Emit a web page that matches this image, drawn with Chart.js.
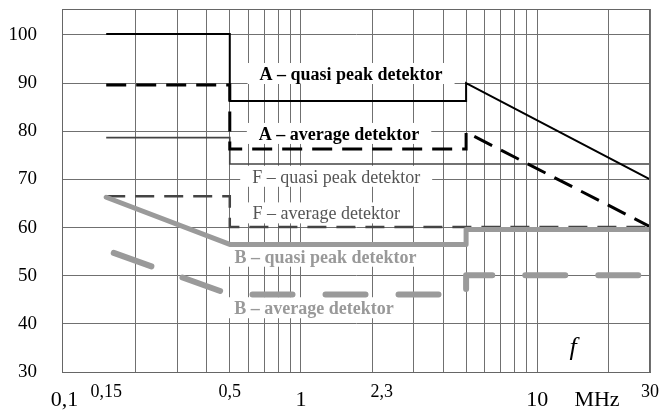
<!DOCTYPE html>
<html>
<head>
<meta charset="utf-8">
<script src="https://cdn.jsdelivr.net/npm/chart.js@4.4.1/dist/chart.umd.min.js"></script>
<style>
  html, body { margin: 0; padding: 0; background: #fff; }
  #wrap { width: 663px; height: 410px; }
</style>
</head>
<body>
<div id="wrap"><canvas id="limits" width="663" height="410"></canvas></div>
<script>
// Limit curves (frequency in MHz, level in dB)
const aQpFreq = [0.15, 0.5, 0.5, 5, 5, 30];
const aQpLevel = [100.2, 100.2, 86.3, 86.3, 90, 70];
const aAvgFreq = [0.15, 0.5, 0.5, 5, 5, 30];
const aAvgLevel = [89.6, 89.6, 76.3, 76.3, 79.8, 60.2];
const fQpFreq = [0.15, 0.5, 0.5, 30];
const fQpLevel = [78.7, 78.7, 73.2, 73.2];
const fAvgFreq = [0.15, 0.5, 0.5, 30];
const fAvgLevel = [66.5, 66.5, 60.1, 60.1];
const bQpFreq = [0.15, 0.5, 5, 5, 30];
const bQpLevel = [66.3, 56.5, 56.5, 59.6, 59.6];
const bAvgFreq = [0.15, 0.5, 5, 5, 30];
const bAvgLevel = [55.3, 46.1, 46.1, 50.1, 50.1];

// Axes
const xGridValues = [0.2, 0.3, 0.4, 0.5, 0.6, 0.7, 0.8, 0.9, 1, 2, 3, 4, 5, 6, 7, 8, 9, 10, 20, 30];
const yTickValues = [30, 40, 50, 60, 70, 80, 90, 100];
const xLabelTexts = ['0,1', '0,15', '0,5', '1', '2,3', '10', 'MHz', '30'];
const xLabelAt = [0.1, 0.15, 0.5, 1, 2.2, 10, 17.9, 30];
const xLabelBig = [true, false, false, true, false, true, true, false];

// Curve captions
const captionTexts = ['A – quasi peak detektor', 'A – average detektor', 'F – quasi peak detektor',
  'F – average detektor', 'B – quasi peak detektor', 'B – average detektor'];
const captionFreq = [1.63, 1.45, 1.41, 1.28, 1.27, 1.135];
const captionLevel = [90.65, 78.2, 69.3, 61.7, 52.7, 42.0];
const captionBold = [true, true, false, false, true, true];
const captionColor = ['#000', '#000', '#555', '#555', '#999', '#999'];

const SERIF = '"Liberation Serif", "Times New Roman", serif';

function toPoints(freq, level) {
  return freq.map((f, i) => ({ x: f, y: level[i] }));
}

// Captions with white boxes, drawn over the grid but under the curves
const captionPlugin = {
  id: 'captions',
  beforeDatasetsDraw(chart) {
    const ctx = chart.ctx;
    const xs = chart.scales.x, ys = chart.scales.y;
    ctx.save();
    captionTexts.forEach((t, i) => {
      ctx.font = (captionBold[i] ? 'bold ' : '') + '18px ' + SERIF;
      const w = ctx.measureText(t).width;
      const cx = xs.getPixelForValue(captionFreq[i]);
      const by = ys.getPixelForValue(captionLevel[i]);
      ctx.fillStyle = '#fff';
      ctx.fillRect(cx - w / 2 - 12, by - 17, w + 24, 21);
      ctx.fillStyle = captionColor[i];
      ctx.textAlign = 'center';
      ctx.textBaseline = 'alphabetic';
      ctx.fillText(t, cx, by);
    });
    ctx.restore();
  },
  afterDraw(chart) {
    const ctx = chart.ctx;
    const a = chart.chartArea;
    const xs = chart.scales.x, ys = chart.scales.y;
    ctx.save();
    // frame
    ctx.strokeStyle = '#666';
    ctx.lineWidth = 1;
    ctx.strokeRect(a.left + 0.5, a.top + 0.5, a.right - a.left - 1, a.bottom - a.top);
    // x labels
    ctx.fillStyle = '#000';
    ctx.textAlign = 'center';
    ctx.textBaseline = 'alphabetic';
    xLabelTexts.forEach((t, i) => {
      ctx.font = (xLabelBig[i] ? '22px ' : '18px ') + SERIF;
      ctx.fillText(t, xs.getPixelForValue(xLabelAt[i]), xLabelBig[i] ? 406 : 397);
    });
    // frequency symbol
    ctx.font = 'italic 26px ' + SERIF;
    ctx.fillText('f', xs.getPixelForValue(14.2), ys.getPixelForValue(33.5));
    ctx.restore();
  }
};

new Chart(document.getElementById('limits'), {
  type: 'line',
  data: {
    datasets: [
      { data: toPoints(bQpFreq, bQpLevel), borderColor: '#9a9a9a', borderWidth: 5,
        borderCapStyle: 'round', borderJoinStyle: 'round' },
      { data: toPoints(bAvgFreq, bAvgLevel), borderColor: '#9a9a9a', borderWidth: 6,
        borderCapStyle: 'round', borderJoinStyle: 'round', borderDash: [40, 33], borderDashOffset: 65 },
      { data: toPoints(aQpFreq, aQpLevel), borderColor: '#000', borderWidth: 2 },
      { data: toPoints(aAvgFreq, aAvgLevel), borderColor: '#000', borderWidth: 3, borderDash: [20, 10] },
      { data: toPoints(fQpFreq, fQpLevel), borderColor: '#444', borderWidth: 1.7 },
      { data: toPoints(fAvgFreq, fAvgLevel), borderColor: '#444', borderWidth: 2.5, borderDash: [19, 10] }
    ]
  },
  options: {
    responsive: false,
    animation: false,
    devicePixelRatio: 1,
    layout: { padding: { left: 10, right: 13, top: 9, bottom: 0 } },
    elements: { point: { radius: 0 }, line: { tension: 0, fill: false } },
    plugins: { legend: { display: false }, tooltip: { enabled: false } },
    scales: {
      x: {
        type: 'logarithmic',
        min: 0.0975,
        max: 30,
        afterBuildTicks(scale) { scale.ticks = xGridValues.map(v => ({ value: v })); },
        afterFit(scale) {
          scale.height = 38;
          scale.paddingLeft = 0;
          scale.paddingRight = 0;
        },
        ticks: { display: false },
        grid: { color: '#707070', lineWidth: 1, drawTicks: false },
        border: { color: '#666' }
      },
      y: {
        type: 'linear',
        min: 30,
        max: 105.4,
        afterBuildTicks(scale) { scale.ticks = yTickValues.map(v => ({ value: v })); },
        afterFit(scale) {
          scale.width = 52;
          scale.paddingTop = 0;
          scale.paddingBottom = 0;
        },
        ticks: { padding: 25, color: '#000', font: { family: SERIF, size: 19 } },
        grid: { color: '#707070', lineWidth: 1, drawTicks: false },
        border: { color: '#666' }
      }
    }
  },
  plugins: [captionPlugin]
});
</script>
</body>
</html>
